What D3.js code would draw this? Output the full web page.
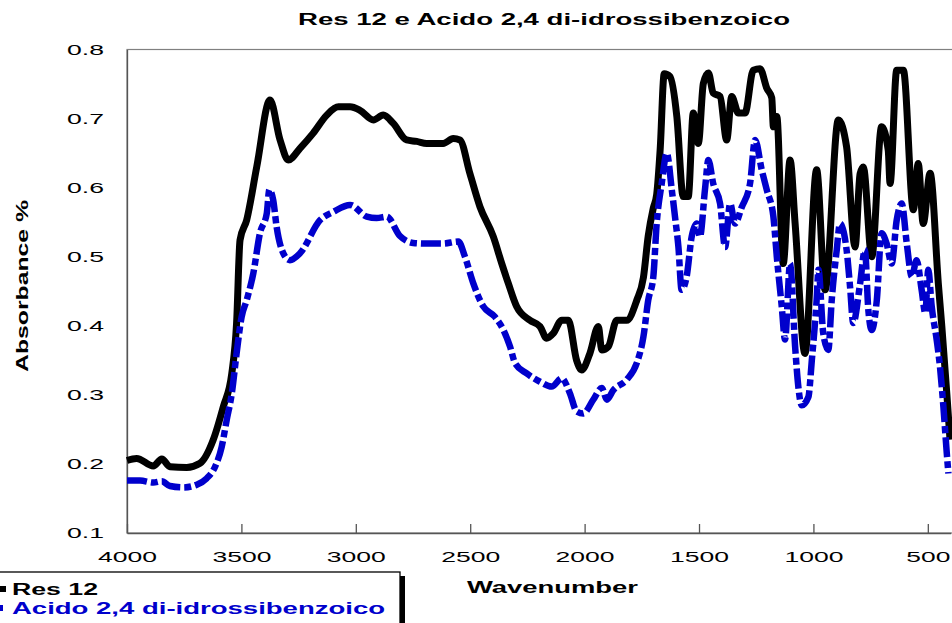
<!DOCTYPE html>
<html>
<head>
<meta charset="utf-8">
<script src="https://cdn.jsdelivr.net/npm/d3@7"></script>
<style>
  body { margin: 0; background: #fff; }
  text { font-family: Arial, "Liberation Sans", sans-serif; }
</style>
</head>
<body>
<div id="chart"></div>
<script>
// wavenumbers (cm-1) and absorbance
var resWavenumber = [4000, 3958, 3885, 3848, 3812, 3739, 3681, 3623, 3579, 3542, 3521, 3506, 3477, 3433, 3375, 3331, 3295, 3244, 3186, 3127, 3076, 3025, 2982, 2923, 2880, 2836, 2778, 2734, 2690, 2618, 2574, 2545, 2501, 2457, 2399, 2362, 2333, 2297, 2239, 2195, 2166, 2137, 2100, 2071, 2035, 2013, 1977, 1940, 1925, 1896, 1860, 1816, 1772, 1743, 1722, 1700, 1685, 1670, 1652, 1627, 1597, 1569, 1547, 1525, 1503, 1481, 1459, 1438, 1408, 1379, 1357, 1328, 1299, 1263, 1233, 1204, 1182, 1175, 1160, 1132, 1102, 1080, 1037, 986, 949, 891, 855, 818, 796, 782, 745, 702, 673, 665, 636, 607, 563, 542, 520, 490, 454, 439, 417, 403]
var resAbsorbance = [0.205, 0.208, 0.197, 0.207, 0.196, 0.195, 0.201, 0.235, 0.283, 0.331, 0.404, 0.524, 0.553, 0.630, 0.727, 0.669, 0.640, 0.657, 0.679, 0.705, 0.717, 0.717, 0.712, 0.698, 0.705, 0.693, 0.669, 0.667, 0.664, 0.664, 0.671, 0.669, 0.620, 0.572, 0.529, 0.490, 0.461, 0.428, 0.408, 0.399, 0.382, 0.389, 0.408, 0.408, 0.350, 0.336, 0.360, 0.399, 0.365, 0.370, 0.408, 0.408, 0.437, 0.470, 0.530, 0.570, 0.590, 0.654, 0.765, 0.761, 0.703, 0.587, 0.587, 0.708, 0.664, 0.751, 0.766, 0.737, 0.732, 0.669, 0.732, 0.708, 0.708, 0.770, 0.772, 0.744, 0.730, 0.688, 0.703, 0.490, 0.640, 0.548, 0.360, 0.626, 0.452, 0.698, 0.659, 0.514, 0.620, 0.630, 0.500, 0.688, 0.654, 0.606, 0.770, 0.770, 0.568, 0.635, 0.548, 0.621, 0.461, 0.400, 0.302, 0.235]

var acidoWavenumber = [4000, 3943, 3885, 3848, 3812, 3754, 3695, 3652, 3615, 3586, 3564, 3542, 3521, 3499, 3477, 3448, 3419, 3389, 3378, 3361, 3346, 3317, 3288, 3244, 3156, 3098, 3025, 2952, 2909, 2865, 2807, 2749, 2690, 2618, 2552, 2523, 2486, 2443, 2392, 2355, 2326, 2304, 2253, 2195, 2144, 2100, 2064, 2035, 2006, 1962, 1925, 1903, 1874, 1816, 1772, 1743, 1722, 1700, 1685, 1663, 1641, 1619, 1605, 1590, 1576, 1554, 1532, 1510, 1496, 1474, 1459, 1438, 1408, 1386, 1364, 1343, 1313, 1277, 1255, 1226, 1204, 1175, 1160, 1139, 1124, 1102, 1080, 1066, 1051, 1022, 1007, 986, 978, 957, 935, 920, 898, 884, 855, 840, 826, 796, 775, 760, 745, 723, 702, 680, 658, 636, 614, 592, 570, 549, 527, 511, 498, 483, 461, 447, 432, 417, 410]
var acidoAbsorbance = [0.176, 0.176, 0.173, 0.175, 0.168, 0.166, 0.170, 0.179, 0.196, 0.225, 0.264, 0.302, 0.360, 0.413, 0.437, 0.476, 0.534, 0.563, 0.597, 0.582, 0.543, 0.505, 0.495, 0.505, 0.553, 0.565, 0.575, 0.558, 0.556, 0.558, 0.530, 0.520, 0.519, 0.519, 0.522, 0.500, 0.461, 0.428, 0.413, 0.394, 0.370, 0.346, 0.331, 0.319, 0.312, 0.324, 0.302, 0.276, 0.273, 0.293, 0.310, 0.293, 0.307, 0.322, 0.346, 0.384, 0.437, 0.470, 0.548, 0.606, 0.650, 0.597, 0.558, 0.514, 0.452, 0.471, 0.529, 0.548, 0.529, 0.597, 0.640, 0.606, 0.577, 0.514, 0.577, 0.548, 0.572, 0.606, 0.669, 0.626, 0.597, 0.558, 0.500, 0.430, 0.380, 0.490, 0.370, 0.312, 0.285, 0.297, 0.350, 0.437, 0.481, 0.389, 0.365, 0.437, 0.510, 0.548, 0.510, 0.457, 0.404, 0.461, 0.510, 0.423, 0.394, 0.437, 0.534, 0.519, 0.490, 0.553, 0.577, 0.519, 0.471, 0.495, 0.452, 0.418, 0.481, 0.428, 0.379, 0.341, 0.283, 0.215, 0.186]

var xTicks = [4000, 3500, 3000, 2500, 2000, 1500, 1000, 500]
var yTicks = [0.1, 0.2, 0.3, 0.4, 0.5, 0.6, 0.7, 0.8]
var seriesNames = ['Res 12', 'Acido 2,4 di-idrossibenzoico']

var width = 952
var height = 623

var svg = d3
  .select('#chart')
  .append('svg')
  .attr('width', width)
  .attr('height', height)

// the plot runs off the right edge of the picture
var xScale = d3.scaleLinear().domain([4000, 400]).range([127, 950.7])
var yScale = d3.scaleLinear().domain([0.1, 0.8]).range([533, 49.5])

// plot frame
svg
  .append('rect')
  .attr('x', 127)
  .attr('y', 49.5)
  .attr('width', 900)
  .attr('height', 533 - 49.5)
  .attr('fill', 'none')
  .attr('stroke', '#808080')
  .attr('stroke-width', 1.2)

var xAxis = d3
  .axisBottom(xScale)
  .tickValues(xTicks)
  .tickSizeInner(-9)
  .tickSizeOuter(0)
  .tickPadding(18)
  .tickFormat(d3.format('d'))

var gx = svg
  .append('g')
  .attr('transform', 'translate(0,533)')
  .call(xAxis)
gx.select('.domain').attr('stroke', '#555').attr('stroke-width', 1.3)
gx.selectAll('.tick line').attr('stroke', '#555').attr('stroke-width', 1.3)
gx.selectAll('.tick text')
  .attr('font-size', 15)
  .attr('fill', '#000')
  .attr('textLength', d => (d >= 1000 ? 59 : 44))
  .attr('lengthAdjust', 'spacingAndGlyphs')

var yAxis = d3
  .axisLeft(yScale)
  .tickValues(yTicks)
  .tickSize(0)
  .tickPadding(23)
  .tickFormat(d3.format('.1f'))

var gy = svg
  .append('g')
  .attr('transform', 'translate(127,0)')
  .call(yAxis)
gy.select('.domain').attr('stroke', '#555').attr('stroke-width', 1.3)
gy.selectAll('.tick text')
  .attr('font-size', 14.5)
  .attr('fill', '#000')
  .attr('textLength', 37)
  .attr('lengthAdjust', 'spacingAndGlyphs')

var resData = resWavenumber.map((w, i) => [w, resAbsorbance[i]])
var acidoData = acidoWavenumber.map((w, i) => [w, acidoAbsorbance[i]])

var line = d3
  .line()
  .curve(d3.curveMonotoneX)
  .x(d => xScale(d[0]))
  .y(d => yScale(d[1]))

svg
  .append('path')
  .datum(resData)
  .attr('d', line)
  .attr('fill', 'none')
  .attr('stroke', '#000')
  .attr('stroke-width', 7)
  .attr('stroke-linejoin', 'round')

svg
  .append('path')
  .datum(acidoData)
  .attr('d', line)
  .attr('fill', 'none')
  .attr('stroke', '#0000CC')
  .attr('stroke-width', 6.5)
  .attr('stroke-dasharray', '20,4,7,4')
  .attr('stroke-linejoin', 'round')

// title and axis labels
svg
  .append('text')
  .attr('x', 298)
  .attr('y', 25)
  .attr('font-size', 16)
  .attr('font-weight', 'bold')
  .attr('textLength', 492)
  .attr('lengthAdjust', 'spacingAndGlyphs')
  .text('Res 12 e Acido 2,4 di-idrossibenzoico')

svg
  .append('text')
  .attr('x', 467)
  .attr('y', 593)
  .attr('font-size', 16)
  .attr('font-weight', 'bold')
  .attr('textLength', 171)
  .attr('lengthAdjust', 'spacingAndGlyphs')
  .text('Wavenumber')

svg
  .append('text')
  .attr('transform', 'translate(28,372) rotate(-90)')
  .attr('font-size', 16)
  .attr('font-weight', 'bold')
  .attr('textLength', 172)
  .attr('lengthAdjust', 'spacingAndGlyphs')
  .text('Absorbance %')

// legend, cut off at the bottom left
var legend = svg.append('g')
legend
  .append('rect')
  .attr('x', -20)
  .attr('y', 576)
  .attr('width', 425)
  .attr('height', 80)
  .attr('fill', '#000')
legend
  .append('rect')
  .attr('x', -20)
  .attr('y', 572)
  .attr('width', 420)
  .attr('height', 80)
  .attr('fill', '#fff')
  .attr('stroke', '#000')
  .attr('stroke-width', 1.3)

var legendY = d3.scalePoint().domain(seriesNames).range([589, 608])
var legendColor = d3.scaleOrdinal().domain(seriesNames).range(['#000', '#0000CC'])
var legendLength = d3.scaleOrdinal().domain(seriesNames).range([86, 373])

legend
  .selectAll('.sample')
  .data(seriesNames)
  .enter()
  .append('line')
  .attr('x1', -10)
  .attr('x2', (d, i) => (i === 0 ? 6 : 3))
  .attr('y1', d => legendY(d))
  .attr('y2', d => legendY(d))
  .attr('stroke', d => legendColor(d))
  .attr('stroke-width', 6)

legend
  .selectAll('.label')
  .data(seriesNames)
  .enter()
  .append('text')
  .attr('x', 12)
  .attr('y', d => legendY(d) + 6)
  .attr('font-size', 16)
  .attr('font-weight', 'bold')
  .attr('fill', d => legendColor(d))
  .attr('textLength', d => legendLength(d))
  .attr('lengthAdjust', 'spacingAndGlyphs')
  .text(d => d)
</script>
</body>
</html>
